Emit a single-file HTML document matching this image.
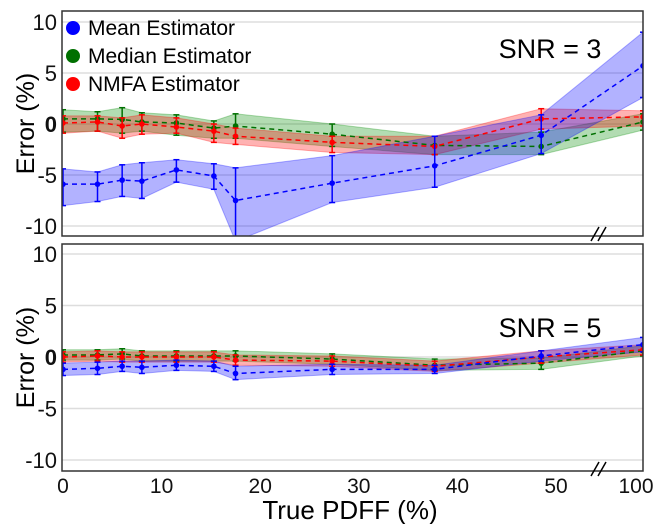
<!DOCTYPE html>
<html><head><meta charset="utf-8"><style>
html,body{margin:0;padding:0;background:#fff;}
svg{display:block;font-family:"Liberation Sans",Arial,sans-serif;}
</style></head><body>
<svg id="chart" width="659" height="524" viewBox="0 0 659 524"></svg>
<script>
const xVals=[0,3.5,6,8,11.5,15.3,17.5,27.3,37.7,48.5,100];
const topMean=[-5.9,-5.9,-5.5,-5.6,-4.5,-5.1,-7.5,-5.8,-4.1,-1.1,5.7];
const topMeanHi=[-4.4,-4.7,-4.0,-3.8,-3.5,-3.9,-4.3,-3.1,-1.2,0.9,9.0];
const topMeanLo=[-8.0,-7.6,-7.1,-7.3,-5.7,-6.4,-11.5,-7.7,-6.2,-2.9,2.6];
const topMed=[0.5,0.5,0.45,0.2,0.1,-0.4,-0.2,-1.0,-2.1,-2.2,0.2];
const topMedHi=[1.4,1.2,1.6,1.1,0.9,0.3,1.0,0.0,-1.2,-0.8,1.0];
const topMedLo=[-0.8,-0.7,-0.9,-0.7,-1.1,-1.4,-1.4,-2.2,-3.0,-3.0,-0.6];
const topNm=[0.1,0.2,-0.2,0.0,-0.3,-0.7,-1.2,-1.8,-2.2,0.5,0.7];
const topNmHi=[0.8,0.8,0.6,0.9,0.6,0.0,-0.4,-1.2,-1.2,1.5,1.3];
const topNmLo=[-0.9,-0.7,-1.4,-1.0,-0.9,-1.8,-2.0,-2.8,-3.0,-0.5,-0.2];
const botMean=[-1.2,-1.1,-0.9,-1.0,-0.8,-0.9,-1.6,-1.2,-1.2,0.1,1.2];
const botMeanHi=[-0.6,-0.5,-0.4,-0.4,-0.3,-0.4,-0.9,-0.7,-0.8,0.6,1.9];
const botMeanLo=[-1.8,-1.7,-1.4,-1.6,-1.3,-1.4,-2.2,-1.7,-1.6,-0.4,0.5];
const botMed=[0.2,0.2,0.3,0.1,0.1,0.1,0.1,-0.2,-0.8,-0.6,0.6];
const botMedHi=[0.7,0.7,0.8,0.6,0.6,0.6,0.6,0.3,-0.2,-0.1,1.1];
const botMedLo=[-0.3,-0.3,-0.2,-0.4,-0.4,-0.4,-0.4,-0.7,-1.3,-1.2,0.1];
const botNm=[0.0,0.1,0.0,0.0,0.0,0.0,-0.3,-0.4,-0.9,0.0,0.7];
const botNmHi=[0.5,0.6,0.5,0.5,0.5,0.5,0.2,0.1,-0.4,0.6,1.2];
const botNmLo=[-0.5,-0.4,-0.5,-0.5,-0.5,-0.5,-0.8,-0.9,-1.4,-0.6,0.2];
const xTicks=[0,10,20,30,40,50,100];
const yTicks=[10,5,0,-5,-10];

const NS="http://www.w3.org/2000/svg";
const svg=document.getElementById('chart');
function mk(tag,attrs,parent){const e=document.createElementNS(NS,tag);for(const k in attrs)e.setAttribute(k,attrs[k]);(parent||svg).appendChild(e);return e;}
function xs(v){return v<=50?63+v*9.86:556+(v-50)*(643-556)/50;}
const L=62,R=643;
const panels=[
 {top:11,bot:236,y0:124,k:10.2,name:'snr3',label:'SNR = 3',ly:58,series:[
  [topMedLo,topMedHi,topMed,'#007000','rgba(0,140,0,0.3)','median'],
  [topNmLo,topNmHi,topNm,'#ff0000','rgba(255,0,0,0.3)','nmfa'],
  [topMeanLo,topMeanHi,topMean,'#0000ff','rgba(0,0,255,0.3)','mean']]},
 {top:244,bot:471,y0:357,k:10.3,name:'snr5',label:'SNR = 5',ly:337,series:[
  [botMedLo,botMedHi,botMed,'#007000','rgba(0,140,0,0.3)','median'],
  [botNmLo,botNmHi,botNm,'#ff0000','rgba(255,0,0,0.3)','nmfa'],
  [botMeanLo,botMeanHi,botMean,'#0000ff','rgba(0,0,255,0.3)','mean']]}
];
panels.forEach(p=>{
  const ys=v=>p.y0-v*p.k;
  const g=mk('g',{});
  
  
  const cid='clip-'+p.name;
  const cp=mk('clipPath',{id:cid},g);mk('rect',{x:L,y:p.top,width:R-L,height:p.bot-p.top},cp);
  yTicks.forEach(t=>{
    const gl=mk('line',{x1:L,x2:R,y1:ys(t),y2:ys(t),stroke:'#dddddd','stroke-width':1.5},g);
    
    
    const tx=mk('text',{x:57,y:ys(t)+8,'text-anchor':'end','font-size':22,'font-weight':t===0?'bold':'normal',fill:'#111'},g);
    tx.textContent=String(t);
    
    
  });
  const pg=mk('g',{'clip-path':'url(#'+cid+')'},g);
  p.series.forEach(s=>{
    const [lo,hi,mid,col,fill,nm]=s;
    let pts=xVals.map((x,i)=>xs(x)+','+ys(hi[i]));
    pts=pts.concat(xVals.map((x,i)=>xs(x)+','+ys(lo[i])).reverse());
    const band=mk('polygon',{points:pts.join(' '),fill:fill,stroke:fill,'stroke-width':1},pg);
    
    
  });
  p.series.forEach(s=>{
    const [lo,hi,mid,col,fill,nm]=s;
    const ln=mk('polyline',{points:xVals.map((x,i)=>xs(x)+','+ys(mid[i])).join(' '),fill:'none',stroke:col,'stroke-width':1.5,'stroke-dasharray':'5,4'},pg);
    
    
    xVals.forEach((x,i)=>{
      const cx=xs(x);
      mk('line',{x1:cx,x2:cx,y1:ys(hi[i]),y2:ys(lo[i]),stroke:col,'stroke-width':1.5},pg);
      mk('line',{x1:cx-3,x2:cx+3,y1:ys(hi[i]),y2:ys(hi[i]),stroke:col,'stroke-width':1.5},pg);
      mk('line',{x1:cx-3,x2:cx+3,y1:ys(lo[i]),y2:ys(lo[i]),stroke:col,'stroke-width':1.5},pg);
      const d=mk('circle',{cx:cx,cy:ys(mid[i]),r:2.8,fill:col},pg);
      
      
    });
  });
  const fr=mk('rect',{x:L,y:p.top,width:R-L,height:p.bot-p.top,fill:'none',stroke:'#333','stroke-width':1.5},g);
  
  
  mk('line',{x1:591,y1:p.bot+5,x2:599,y2:p.bot-9,stroke:'#000','stroke-width':1.5},g);
  mk('line',{x1:598,y1:p.bot+5,x2:606,y2:p.bot-9,stroke:'#000','stroke-width':1.5},g);
  const sl=mk('text',{x:550,y:p.ly,'text-anchor':'middle','font-size':27,fill:'#000'},g);
  sl.textContent=p.label;
  
  
  const yl=mk('text',{x:0,y:0,'text-anchor':'middle','font-size':25,fill:'#000',transform:'translate(34,'+((p.top+p.bot)/2)+') rotate(-90)'},g);
  yl.textContent='Error (%)';
  
  
});
xTicks.forEach(t=>{
  const tx=mk('text',{x:t===100?636:xs(t),y:493,'text-anchor':'middle','font-size':21,fill:'#111'});
  tx.textContent=String(t);
  
  
});
const xt=mk('text',{x:350,y:519,'text-anchor':'middle','font-size':26,fill:'#000'});
xt.textContent='True PDFF (%)';


const legend=[['Mean Estimator','#0000ff',28],['Median Estimator','#007000',56],['NMFA Estimator','#ff0000',84]];
legend.forEach(l=>{
  const c=mk('circle',{cx:73,cy:l[2],r:7,fill:l[1]});
  
  
  const t=mk('text',{x:88,y:l[2]+7,'font-size':21,fill:'#000'});
  t.textContent=l[0];
  
  
});
</script>
</body></html>
